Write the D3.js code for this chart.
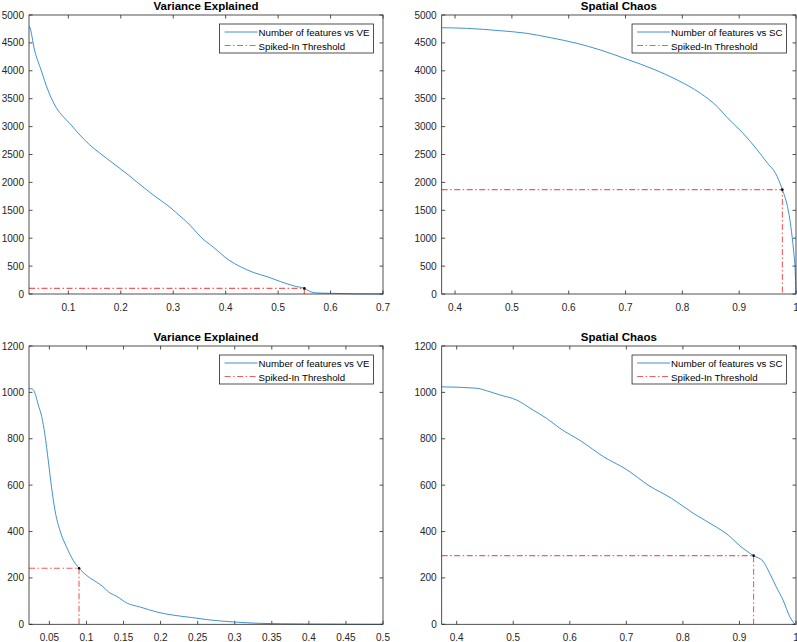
<!DOCTYPE html>
<meta charset="utf-8">
<style>
body { margin: 0; background: #fff; }
svg { display: block; font-family: "Liberation Sans", Arial, sans-serif; }
.frame { fill: none; stroke: #262626; stroke-width: 0.8px; }
.tick { stroke: #262626; stroke-width: 0.8px; }
.ticklabel { font-size: 10px; fill: #262626; }
.title { font-size: 11.5px; font-weight: bold; fill: #000; }
.curve { fill: none; stroke: #2a86cc; stroke-width: 0.9px; }
.thr { fill: none; stroke: #f01818; stroke-width: 1.1px; stroke-dasharray: 6,2.5,1.5,2.5; opacity: 0.7; }
.legend-box { fill: #fff; stroke: #262626; stroke-width: 0.8px; }
.legend-text { font-size: 9.7px; fill: #000; }
</style>
<svg width="797" height="642"></svg>
<script src="https://cdn.jsdelivr.net/npm/d3@7"></script>
<script>
// top-left: variance explained (first data set)
var veX1 = [0.025, 0.026, 0.0355, 0.048, 0.061, 0.077, 0.09, 0.1026, 0.12, 0.141, 0.158, 0.173, 0.198, 0.215, 0.230, 0.262, 0.294, 0.315, 0.326, 0.34, 0.352, 0.377, 0.406, 0.428, 0.454, 0.479, 0.505, 0.531, 0.55, 0.563, 0.575, 0.601, 0.646, 0.70];
var veN1 = [4800, 4791, 4373, 4014, 3656, 3340, 3180, 3059, 2870, 2670, 2540, 2431, 2252, 2130, 2013, 1774, 1553, 1380, 1290, 1150, 1027, 836, 609, 490, 382, 311, 221, 143, 100, 36, 18, 12, 3, 0];

// top-right: spatial chaos (first data set)
var scX1 = [0.3765, 0.4206, 0.479, 0.526, 0.5675, 0.6146, 0.6557, 0.703, 0.75, 0.791, 0.832, 0.8615, 0.879, 0.905, 0.932, 0.95, 0.964, 0.976, 0.985, 0.991, 0.9956, 0.9985, 1.0];
var scN1 = [4772, 4761, 4719, 4672, 4594, 4492, 4373, 4205, 4026, 3835, 3596, 3357, 3160, 2900, 2581, 2342, 2163, 1870, 1565, 1206, 789, 430, 18];

// bottom-left: variance explained (second data set)
var veX2 = [0.0225, 0.0274, 0.0306, 0.035, 0.0396, 0.044, 0.0486, 0.053, 0.0577, 0.0644, 0.0735, 0.0825, 0.09, 0.1005, 0.114, 0.122, 0.13, 0.141, 0.155, 0.173, 0.195, 0.218, 0.240, 0.263, 0.299, 0.335, 0.394, 0.45, 0.5];
var veN2 = [1017, 1014, 996, 946, 896, 817, 703, 589, 489, 403, 331, 274, 242, 210, 181, 163, 139, 120, 91, 74, 53, 39, 30, 20, 10, 4, 1.4, 0.5, 0];

// bottom-right: spatial chaos (second data set)
var scX2 = [0.3735, 0.435, 0.453, 0.4765, 0.506, 0.535, 0.559, 0.5825, 0.62, 0.66, 0.70, 0.74, 0.78, 0.82, 0.86, 0.88, 0.90, 0.925, 0.9417, 0.9535, 0.965, 0.977, 0.989, 0.998];
var scN2 = [1024, 1018, 1007, 989, 967, 924, 888, 845, 790, 722, 668, 598, 543, 476, 418, 385, 340, 296, 272, 220, 162, 105, 33, 0];

// spiked-in thresholds (x, y) per panel
var thrX = [0.55, 0.976, 0.09, 0.925];
var thrY = [100, 1870, 242, 296];

// tick values
var xTicksVE1 = [0.1, 0.2, 0.3, 0.4, 0.5, 0.6, 0.7];
var xTicksSC = [0.4, 0.5, 0.6, 0.7, 0.8, 0.9, 1];
var xTicksVE2 = [0.05, 0.1, 0.15, 0.2, 0.25, 0.3, 0.35, 0.4, 0.45, 0.5];
var yTicks1 = [0, 500, 1000, 1500, 2000, 2500, 3000, 3500, 4000, 4500, 5000];
var yTicks2 = [0, 200, 400, 600, 800, 1000, 1200];

var titles = ["Variance Explained", "Spatial Chaos", "Variance Explained", "Spatial Chaos"];
var legendNames = ["Number of features vs VE", "Number of features vs SC", "Number of features vs VE", "Number of features vs SC"];

var svg = d3.select("svg");

var panels = [
  {box: [29, 15, 383, 294], xd: [0.025, 0.7], yd: [0, 5000], xt: xTicksVE1, yt: yTicks1, xs: veX1, ys: veN1},
  {box: [441.7, 15, 796, 294], xd: [0.3765, 1], yd: [0, 5000], xt: xTicksSC, yt: yTicks1, xs: scX1, ys: scN1},
  {box: [29, 346, 383, 624.3], xd: [0.0225, 0.5], yd: [0, 1200], xt: xTicksVE2, yt: yTicks2, xs: veX2, ys: veN2},
  {box: [441.7, 346, 796, 624.3], xd: [0.3735, 1], yd: [0, 1200], xt: xTicksSC, yt: yTicks2, xs: scX2, ys: scN2}
];

var fmt = function(d) { return String(+d.toFixed(3)); };

panels.forEach(function(p, i) {
  var x0 = p.box[0], y0 = p.box[1], x1 = p.box[2], y1 = p.box[3];
  var x = d3.scaleLinear().domain(p.xd).range([x0, x1]),
      y = d3.scaleLinear().domain(p.yd).range([y1, y0]);
  var g = svg.append("g");
  var tl = 3.5;

  //ticks, inward on all four sides
  p.xt.forEach(function(t) {
    g.append("line").attr("class", "tick").attr("x1", x(t)).attr("x2", x(t)).attr("y1", y1).attr("y2", y1 - tl);
    g.append("line").attr("class", "tick").attr("x1", x(t)).attr("x2", x(t)).attr("y1", y0).attr("y2", y0 + tl);
    g.append("text").attr("class", "ticklabel").attr("x", x(t)).attr("y", y1 + 17)
      .attr("text-anchor", "middle").text(fmt(t));
  });
  p.yt.forEach(function(t) {
    g.append("line").attr("class", "tick").attr("x1", x0).attr("x2", x0 + tl).attr("y1", y(t)).attr("y2", y(t));
    g.append("line").attr("class", "tick").attr("x1", x1).attr("x2", x1 - tl).attr("y1", y(t)).attr("y2", y(t));
    g.append("text").attr("class", "ticklabel").attr("x", x0 - 5).attr("y", y(t))
      .attr("dy", "0.35em").attr("text-anchor", "end").text(fmt(t));
  });

  //curve
  var pts = p.xs.map(function(v, k) { return [v, p.ys[k]]; });
  var line = d3.line().curve(d3.curveMonotoneX)
    .x(function(d) { return x(d[0]); })
    .y(function(d) { return y(d[1]); });
  g.append("path").attr("class", "curve").attr("d", line(pts));

  //threshold lines
  var tx = thrX[i], ty = thrY[i];
  g.append("path").attr("class", "thr")
    .attr("d", "M" + x0 + "," + y(ty) + "H" + x(tx) + "V" + y1);
  g.append("circle").attr("cx", x(tx)).attr("cy", y(ty)).attr("r", 1.3).attr("fill", "#000");

  //frame
  g.append("rect").attr("class", "frame")
    .attr("x", x0).attr("y", y0).attr("width", x1 - x0).attr("height", y1 - y0);

  //title
  g.append("text").attr("class", "title").attr("x", (x0 + x1) / 2).attr("y", y0 - 5.5)
    .attr("text-anchor", "middle").text(titles[i]);

  //legend
  var lg = g.append("g");
  var box = lg.append("rect").attr("class", "legend-box");
  var t1 = lg.append("text").attr("class", "legend-text").text(legendNames[i]);
  var t2 = lg.append("text").attr("class", "legend-text").text("Spiked-In Threshold");
  var tw = Math.max(t1.node().getComputedTextLength(), t2.node().getComputedTextLength());
  var bw = tw + 43, bx = x1 - 9.5 - bw, by = y0 + 9;
  box.attr("x", bx).attr("y", by).attr("width", bw).attr("height", 29);
  t1.attr("x", bx + 39).attr("y", by + 12.3);
  t2.attr("x", bx + 39).attr("y", by + 25.5);
  lg.append("line").attr("class", "curve").attr("x1", bx + 5).attr("x2", bx + 38)
    .attr("y1", by + 8).attr("y2", by + 8);
  lg.append("line").attr("class", "thr").attr("x1", bx + 5).attr("x2", bx + 38)
    .attr("y1", by + 21.5).attr("y2", by + 21.5);
});
</script>
